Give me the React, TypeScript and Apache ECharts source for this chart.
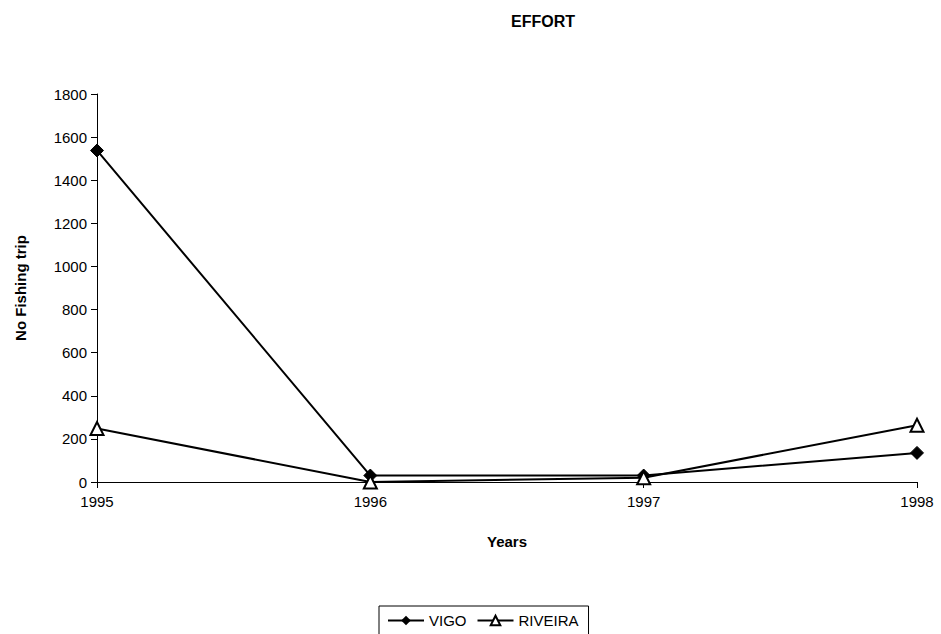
import React, { useEffect, useRef } from "react";
import * as echarts from "echarts";

const years = ["1995", "1996", "1997", "1998"];
const vigo = [1538, 30, 30, 135];
const riveira = [248, 0, 20, 263];
const yTicks = { min: 0, max: 1800, interval: 200 };

export default function App() {
  const ref = useRef<HTMLDivElement>(null);
  useEffect(() => {
    const chart = echarts.init(ref.current!, null, { renderer: "svg" });
    const font = "Liberation Sans, Arial, sans-serif";
    chart.setOption({
      animation: false,
      backgroundColor: "#fff",
      title: {
        text: "EFFORT",
        left: 538,
        top: 8,
        textAlign: "center",
        textStyle: { fontFamily: font, fontSize: 16, fontWeight: "bold", color: "#000" },
      },
      grid: { left: 97, right: 24, top: 94, bottom: 152 },
      legend: {
        bottom: -6,
        left: 379,
        borderColor: "#000",
        borderWidth: 1,
        padding: [7, 10, 12, 8],
        itemWidth: 36,
        itemHeight: 12,
        itemGap: 10,
        textStyle: { fontFamily: font, fontSize: 15, color: "#000" },
        data: ["VIGO", "RIVEIRA"],
      },
      xAxis: {
        type: "category",
        data: years,
        boundaryGap: false,
        name: "Years",
        nameLocation: "middle",
        nameGap: 52,
        nameTextStyle: { fontFamily: font, fontSize: 15, fontWeight: "bold", color: "#000" },
        axisLine: { lineStyle: { color: "#000", width: 1 } },
        axisTick: { length: 6, lineStyle: { color: "#000" } },
        axisLabel: { fontFamily: font, fontSize: 15, color: "#000", margin: 12 },
      },
      yAxis: {
        type: "value",
        ...yTicks,
        name: "No Fishing trip",
        nameLocation: "middle",
        nameGap: 69,
        nameTextStyle: { fontFamily: font, fontSize: 15, fontWeight: "bold", color: "#000" },
        axisLine: { show: true, lineStyle: { color: "#000", width: 1 } },
        axisTick: { show: true, length: 6, lineStyle: { color: "#000" } },
        splitLine: { show: false },
        axisLabel: {
          fontFamily: font,
          fontSize: 15,
          color: "#000",
          margin: 10,
          formatter: (v: number) => String(v),
        },
      },
      series: [
        {
          name: "VIGO",
          type: "line",
          data: vigo,
          symbol: "diamond",
          symbolSize: 13,
          lineStyle: { color: "#000", width: 2 },
          itemStyle: { color: "#000", borderColor: "#000" },
        },
        {
          name: "RIVEIRA",
          type: "line",
          data: riveira,
          symbol: "triangle",
          symbolSize: 13,
          lineStyle: { color: "#000", width: 2 },
          itemStyle: { color: "#fff", borderColor: "#000", borderWidth: 2 },
        },
      ],
    });
    return () => chart.dispose();
  }, []);
  return <div ref={ref} style={{ width: 941, height: 634, position: "absolute", left: 0, top: 0 }} />;
}
